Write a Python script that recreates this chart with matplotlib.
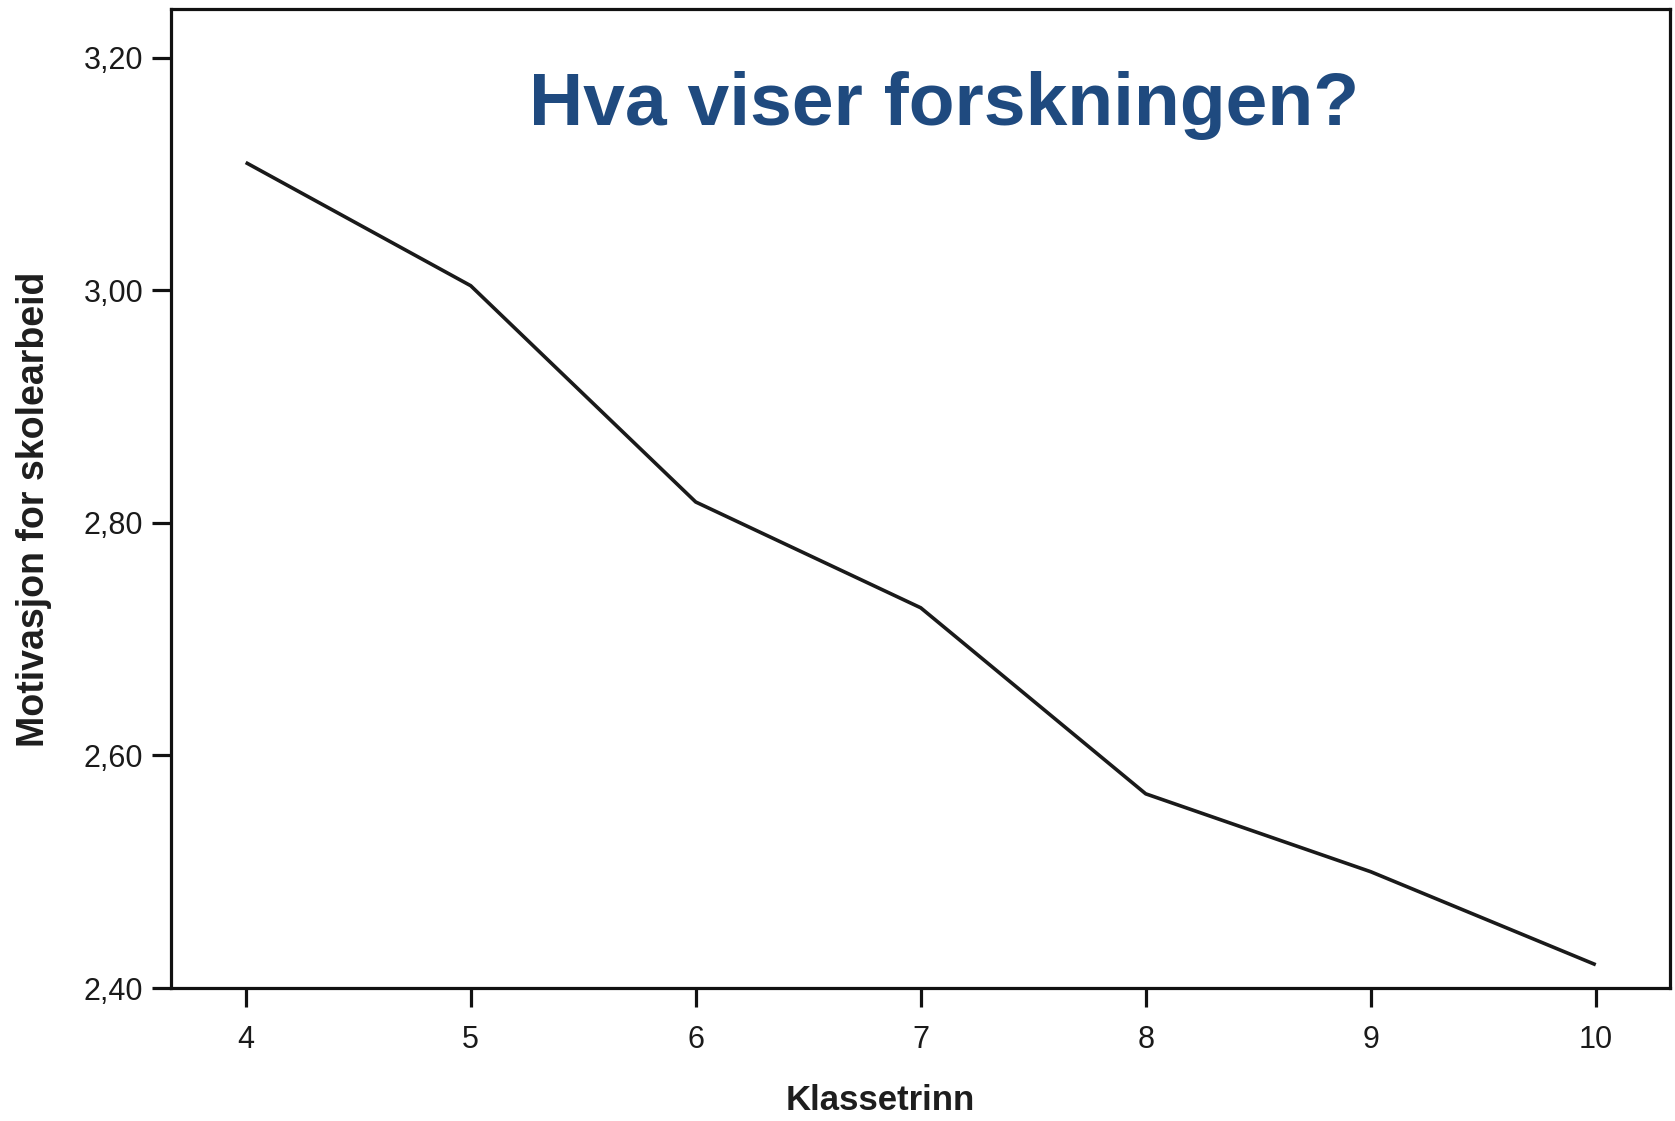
import matplotlib
matplotlib.use("Agg")
import matplotlib.pyplot as plt

grades = [4, 5, 6, 7, 8, 9, 10]
motivation = [3.110, 3.004, 2.818, 2.727, 2.567, 2.500, 2.420]
y_ticks = [2.40, 2.60, 2.80, 3.00, 3.20]
y_tick_labels = ["2,40", "2,60", "2,80", "3,00", "3,20"]
x_tick_labels = ["4", "5", "6", "7", "8", "9", "10"]
title = "Hva viser forskningen?"
xlabel = "Klassetrinn"
ylabel = "Motivasjon for skolearbeid"

plt.rcParams['font.family'] = ['Liberation Sans', 'DejaVu Sans']

W, H = 1675, 1121
fig = plt.figure(figsize=(W / 100, H / 100), dpi=100)
left, right, top, bottom = 171, 1670, 9, 988
ax = fig.add_axes([left / W, 1 - bottom / H, (right - left) / W, (bottom - top) / H])

ax.plot(grades, motivation, color="#1a1a1a", lw=2.6, solid_capstyle="butt")
ax.set_xlim(3.668, 10.33)
ax.set_ylim(2.40, 3.242)
ax.set_xticks(grades)
ax.set_xticklabels(x_tick_labels)
ax.set_yticks(y_ticks)
ax.set_yticklabels(y_tick_labels)
for s in ax.spines.values():
    s.set_linewidth(2.3)
    s.set_color("#111111")
ax.tick_params(axis="both", length=14, width=2.3, color="#111111",
               labelsize=22, labelcolor="#1a1a1a")
ax.tick_params(axis="y", pad=6)
ax.tick_params(axis="x", pad=13)

fig.text(880 / W, 1 - 1101 / H, xlabel, ha="center", va="center",
         fontsize=25, fontweight="bold", color="#1e1e1e")
fig.text(34 / W, 1 - 509 / H, ylabel, ha="center", va="center", rotation=90,
         fontsize=27, fontweight="bold", color="#1e1e1e")
fig.text(944 / W, 1 - 106 / H, title, ha="center", va="center",
         fontsize=54, fontweight="bold", color="#1F4A7F")

fig.savefig("out.png", dpi=100)
